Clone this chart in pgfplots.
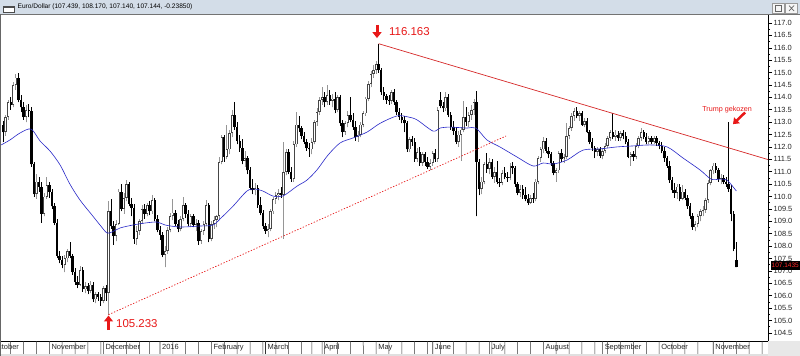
\documentclass[border=0pt]{standalone}
\usepackage{fontspec}
\setmainfont{Liberation Sans}
\usepackage{pgfplots}
\pgfplotsset{compat=1.18}
\usepackage{pgfplotstable}
\usetikzlibrary{arrows.meta}
\definecolor{titlebg}{RGB}{211,221,232}
\definecolor{annred}{RGB}{232,24,24}
\definecolor{trendred}{RGB}{214,40,40}
\definecolor{mablue}{RGB}{40,40,200}
\definecolor{upgray}{RGB}{70,70,70}
\definecolor{wickgray}{RGB}{150,150,150}
\tikzset{monthlbl/.style={anchor=north west, inner sep=0pt, xshift=2bp, yshift=-3bp, font=\fontsize{7.5}{9}\selectfont, text=black!85}}
\pgfplotsset{candle/.style={forget plot, only marks, mark=*, mark size=0pt, mark options={draw=none, fill=none}}}

\pgfplotstableread{
i o h l c
0 112.90 113.05 112.20 112.60
1 112.60 113.30 112.45 113.20
2 113.20 113.90 113.10 113.80
3 113.80 114.00 113.50 113.70
4 113.70 114.60 113.60 114.50
5 114.50 114.95 114.30 114.80
6 114.80 115.00 113.80 113.90
7 113.90 114.10 113.40 113.60
8 113.60 113.80 113.10 113.20
9 113.20 113.70 113.00 113.50
10 113.50 113.75 113.20 113.45
11 113.45 113.60 111.20 111.30
12 111.30 111.40 110.00 110.10
13 110.10 110.90 109.90 110.60
14 110.60 110.80 110.20 110.40
15 110.40 110.60 108.95 109.30
16 109.30 110.15 109.20 110.00
17 110.00 110.80 109.90 110.45
18 110.45 110.60 109.95 110.20
19 110.20 110.30 109.50 109.60
20 109.60 109.75 108.85 108.95
21 108.95 109.10 107.50 107.60
22 107.60 107.80 107.30 107.45
23 107.45 107.60 107.10 107.25
24 107.25 107.65 106.95 107.50
25 107.50 107.90 107.35 107.80
26 107.80 108.15 107.50 107.60
27 107.60 107.70 106.85 106.95
28 106.95 107.10 106.45 106.55
29 106.55 106.80 106.30 106.45
30 106.45 107.20 106.40 107.05
31 107.05 107.15 106.15 106.25
32 106.25 106.55 106.10 106.40
33 106.40 106.50 106.05 106.20
34 106.20 106.60 106.10 106.45
35 106.45 106.55 105.75 105.85
36 105.85 106.15 105.70 106.05
37 106.05 106.15 105.80 105.95
38 105.95 106.05 105.60 105.80
39 105.80 106.40 105.70 106.30
40 106.30 106.45 105.80 106.10
41 106.10 109.80 105.233 109.40
42 109.40 109.90 108.70 108.80
43 108.80 109.00 108.05 108.40
44 108.40 109.05 108.20 108.90
45 108.90 110.30 108.85 110.20
46 110.20 110.50 109.40 109.50
47 109.50 110.15 109.30 109.95
48 109.95 110.65 109.80 110.50
49 110.50 110.60 109.60 109.70
50 109.70 109.95 109.20 109.55
51 109.55 109.70 108.10 108.30
52 108.30 108.80 108.05 108.60
53 108.60 109.10 108.45 109.00
54 109.00 109.65 108.90 109.50
55 109.50 109.70 109.10 109.30
56 109.30 109.75 109.20 109.65
57 109.65 109.80 109.25 109.40
58 109.40 110.05 109.30 109.85
59 109.85 109.95 109.00 109.10
60 109.10 109.25 108.55 108.65
61 108.65 108.80 108.25 108.45
62 108.45 108.55 107.55 107.65
63 107.65 108.00 107.15 107.80
64 107.80 108.75 107.70 108.65
65 108.65 109.35 108.55 109.20
66 109.20 109.90 109.05 109.35
67 109.35 109.45 108.80 108.90
68 108.90 109.05 108.55 108.70
69 108.70 109.20 108.60 109.10
70 109.10 110.00 109.00 109.65
71 109.65 109.75 109.15 109.30
72 109.30 109.45 108.80 108.90
73 108.90 109.30 108.75 109.20
74 109.20 109.30 108.75 108.85
75 108.85 109.10 108.60 108.95
76 108.95 109.05 108.05 108.20
77 108.20 108.70 108.10 108.60
78 108.60 109.00 108.45 108.90
79 108.90 109.85 108.80 109.65
80 109.65 109.75 108.15 108.30
81 108.30 109.00 108.20 108.90
82 108.90 109.20 108.70 109.05
83 109.05 109.25 108.75 109.20
84 109.20 111.60 109.10 111.40
85 111.40 112.50 111.30 112.40
86 112.40 112.50 111.40 111.60
87 111.60 112.90 111.50 111.90
88 111.90 112.70 111.70 112.55
89 112.55 113.50 112.40 113.30
90 113.30 113.80 112.70 112.80
91 112.80 113.00 112.10 112.25
92 112.25 112.50 111.80 111.95
93 111.95 112.30 111.30 111.45
94 111.45 111.85 111.20 111.55
95 111.55 111.65 110.90 111.05
96 111.05 111.20 110.25 110.35
97 110.35 110.70 110.10 110.25
98 110.25 110.55 110.05 110.35
99 110.35 110.45 109.55 109.65
100 109.65 110.00 109.25 109.35
101 109.35 109.45 108.70 108.80
102 108.80 108.95 108.50 108.60
103 108.60 108.90 108.35 108.70
104 108.70 109.50 108.60 109.40
105 109.40 110.00 109.30 109.90
106 109.90 110.20 109.70 110.05
107 110.05 110.30 109.85 110.15
108 110.15 110.40 109.95 110.05
109 110.05 112.20 108.30 111.00
110 111.00 111.90 110.85 111.80
111 111.80 111.90 110.90 111.00
112 111.00 111.20 110.60 110.70
113 110.70 112.25 110.60 112.10
114 112.10 113.40 112.00 112.90
115 112.90 113.25 112.60 112.75
116 112.75 112.85 112.30 112.45
117 112.45 112.60 112.10 112.20
118 112.20 112.30 111.85 111.95
119 111.95 112.15 111.60 111.90
120 111.90 112.35 111.70 112.20
121 112.20 113.10 112.10 113.00
122 113.00 113.55 112.85 113.40
123 113.40 114.00 113.30 113.90
124 113.90 114.40 113.70 114.00
125 114.00 114.20 113.60 113.80
126 113.80 114.50 113.70 114.10
127 114.10 114.30 113.70 113.85
128 113.85 114.15 113.60 113.95
129 113.95 114.20 113.35 113.50
130 113.50 114.10 113.40 114.00
131 114.00 114.10 112.85 112.95
132 112.95 113.10 112.40 112.60
133 112.60 113.05 112.50 112.95
134 112.95 113.45 112.80 113.30
135 113.30 114.00 113.00 113.10
136 113.10 113.35 112.70 112.80
137 112.80 113.05 112.25 112.40
138 112.40 112.65 112.20 112.50
139 112.50 113.00 112.40 112.90
140 112.90 113.45 112.80 113.35
141 113.35 114.00 113.25 113.95
142 113.95 114.65 113.85 114.55
143 114.55 115.05 114.40 114.95
144 114.95 115.30 114.80 115.10
145 115.10 115.45 114.95 115.35
146 115.35 116.163 115.00 115.10
147 115.10 115.20 114.10 114.20
148 114.20 114.40 113.90 114.05
149 114.05 114.15 113.75 113.90
150 113.90 114.10 113.70 113.85
151 113.85 114.30 113.75 114.20
152 114.20 114.35 113.70 113.80
153 113.80 113.90 113.30 113.40
154 113.40 113.55 113.10 113.20
155 113.20 113.35 112.95 113.10
156 113.10 113.25 112.60 112.95
157 112.95 113.05 111.80 111.90
158 111.90 112.40 111.80 112.30
159 112.30 112.45 112.05 112.20
160 112.20 112.35 111.40 111.50
161 111.50 111.95 111.40 111.80
162 111.80 112.00 111.25 111.35
163 111.35 111.80 111.25 111.70
164 111.70 111.80 111.25 111.40
165 111.40 111.60 111.10 111.20
166 111.20 111.50 111.05 111.35
167 111.35 111.85 111.25 111.75
168 111.75 111.90 111.40 111.50
169 111.50 113.60 111.40 113.50
170 113.90 114.20 113.55 113.65
171 113.65 113.80 113.40 113.55
172 113.55 114.20 113.45 114.00
173 114.00 114.15 113.20 113.30
174 113.30 113.40 112.70 112.80
175 112.80 113.05 112.50 112.65
176 112.65 112.80 112.10 112.20
177 112.20 112.65 112.00 112.50
178 112.50 112.80 111.45 112.70
179 112.70 113.85 112.60 113.20
180 113.20 113.60 112.85 113.00
181 113.00 113.40 112.80 113.30
182 113.30 113.70 113.10 113.50
183 113.50 113.95 113.30 113.80
184 113.80 114.27 109.20 111.40
185 111.40 111.50 110.05 110.30
186 110.30 110.80 110.10 110.60
187 110.60 111.40 110.50 111.30
188 111.30 111.75 110.95 111.10
189 111.10 111.55 110.90 111.40
190 111.40 111.50 110.70 110.80
191 110.80 111.20 110.55 111.00
192 111.00 111.45 110.50 110.60
193 110.60 110.75 110.40 110.55
194 110.55 111.05 110.45 110.95
195 110.95 111.20 110.70 110.80
196 110.80 111.00 110.60 110.75
197 110.75 111.35 110.65 111.25
198 111.25 111.40 110.90 111.15
199 111.15 111.25 110.40 110.50
200 110.50 110.60 110.05 110.15
201 110.15 110.45 110.00 110.30
202 110.30 110.45 109.90 110.05
203 110.05 110.40 109.80 109.90
204 109.90 110.10 109.65 109.75
205 109.75 110.05 109.70 109.95
206 109.95 110.15 109.75 109.90
207 109.90 110.70 109.80 110.60
208 110.60 111.65 110.50 111.55
209 111.55 112.00 111.40 111.90
210 111.90 112.40 111.75 112.25
211 112.25 112.35 111.75 111.85
212 111.85 112.00 111.55 111.70
213 111.70 111.80 111.25 111.35
214 111.35 111.45 110.85 110.95
215 110.95 111.15 110.60 111.05
216 111.05 111.85 110.95 111.75
217 111.75 111.90 111.40 111.50
218 111.50 111.70 111.35 111.60
219 111.60 112.95 111.50 112.45
220 112.45 112.85 112.30 112.75
221 112.75 113.35 112.65 113.25
222 113.25 113.55 113.05 113.45
223 113.45 113.60 113.15 113.25
224 113.25 113.45 113.05 113.35
225 113.35 113.45 112.85 112.90
226 112.90 113.15 112.80 113.05
227 113.05 113.15 112.55 112.60
228 112.60 112.70 112.10 112.20
229 112.20 112.35 111.85 111.95
230 111.95 112.05 111.55 111.80
231 111.80 112.00 111.65 111.90
232 111.90 112.00 111.55 111.65
233 111.65 111.95 111.50 111.85
234 111.85 112.15 111.75 112.05
235 112.05 112.45 111.95 112.35
236 112.35 112.70 112.25 112.60
237 112.60 113.37 112.30 112.40
238 112.40 112.70 112.25 112.50
239 112.50 112.65 112.25 112.35
240 112.35 112.65 112.25 112.55
241 112.55 112.70 112.30 112.45
242 112.45 112.60 112.10 112.20
243 112.20 112.30 111.55 111.60
244 111.60 111.80 111.25 111.70
245 111.70 111.85 111.45 111.60
246 111.60 112.15 111.50 112.05
247 112.05 112.45 111.95 112.35
248 112.35 112.75 112.25 112.60
249 112.60 112.70 112.30 112.40
250 112.40 112.55 112.10 112.20
251 112.20 112.45 112.10 112.35
252 112.35 112.45 112.10 112.20
253 112.20 112.45 112.10 112.35
254 112.35 112.45 112.05 112.15
255 112.15 112.25 111.90 112.05
256 112.05 112.20 111.75 111.85
257 111.85 112.00 111.40 111.55
258 111.55 111.65 111.15 111.25
259 111.25 111.45 110.55 110.65
260 110.65 110.80 110.15 110.25
261 110.25 110.55 109.95 110.15
262 110.15 110.50 109.90 110.40
263 110.40 110.50 109.80 109.90
264 109.90 110.45 109.85 110.20
265 110.20 110.30 109.85 109.95
266 109.95 110.05 109.50 109.60
267 109.60 109.75 109.10 109.20
268 109.20 109.35 108.65 108.75
269 108.75 109.00 108.60 108.90
270 108.90 109.30 108.75 109.20
271 109.20 109.50 109.00 109.40
272 109.40 109.60 109.20 109.45
273 109.45 109.95 109.35 109.85
274 109.85 110.65 109.75 110.55
275 110.55 111.10 110.45 111.05
276 111.05 111.35 110.90 111.25
277 111.25 111.35 110.95 111.05
278 111.05 111.15 110.60 110.70
279 110.70 110.90 110.50 110.75
280 110.75 110.85 110.50 110.60
281 110.60 110.80 110.40 110.50
282 110.50 113.00 110.20 110.30
283 110.30 110.45 109.00 109.30
284 109.30 109.40 107.80 107.90
285 107.439 108.170 107.140 107.144
}\candles

\pgfplotstableread{
i ma
-0.7 112.08
2.7 112.28
6.6 112.56
10.9 112.72
14.4 112.24
18.3 111.83
22.2 111.27
26.0 110.50
29.9 109.86
34.6 109.25
37.7 108.85
40.4 108.53
42.4 108.57
45.5 108.73
50.5 108.85
55.2 108.93
59.9 108.97
63.0 108.85
68.8 108.77
76.6 108.81
81.6 108.85
85.1 109.17
89.4 109.61
94.8 110.22
97.9 110.30
101.0 110.22
104.9 110.02
108.8 110.02
114.3 110.42
118.1 110.66
122.0 111.07
126.3 111.67
131.0 112.16
136.0 112.36
141.5 112.60
146.5 112.95
153.1 113.25
157.4 113.21
160.9 113.09
167.1 112.64
169.8 112.76
173.7 112.80
180.3 112.76
183.8 112.76
188.1 112.28
193.1 112.00
199.8 111.59
206.0 111.23
209.9 111.35
213.8 111.31
219.2 111.47
225.4 111.87
232.0 111.92
238.6 112.00
244.9 112.04
251.5 112.08
258.1 112.00
264.3 111.55
270.9 111.07
275.2 110.70
278.7 110.70
281.4 110.66
285.0 110.22
}\matable

\begin{document}
\begin{tikzpicture}
\useasboundingbox (0,0) rectangle (800bp,356bp);
\fill[white] (0,0) rectangle (800bp,356bp);
\begin{axis}[
  at={(1bp,15bp)}, anchor=south west,
  scale only axis, width=767bp, height=326bp,
  xmin=-0.777, xmax=297.3, ymin=104.17, ymax=117.32,
  axis x line*=bottom, axis y line*=right,
  axis line style={black, line width=0.6bp},
  xtick=\empty,
  ytick={104.5,105,105.5,106,106.5,107,107.5,108,108.5,109,109.5,110,110.5,111,111.5,112,112.5,113,113.5,114,114.5,115,115.5,116,116.5,117},
  minor y tick num=1,
  tick align=outside,
  major tick length=4bp, minor tick length=2bp,
  tick style={black, line width=0.5bp},
  yticklabel style={font=\fontsize{7.5}{9}\selectfont, text=black!85, inner sep=1.5bp},
  /pgf/number format/fixed,
  /pgf/number format/fixed zerofill,
  /pgf/number format/precision=1,
  /pgf/number format/assume math mode=true,
  clip=false,
]
% wicks of rising candles (grey)
\addplot[candle,
  error bars/.cd, y dir=plus, y explicit, error mark=none,
  error bar style={line width=0.75bp, color=wickgray, solid}]
  table[x=i, y=l, y error plus expr={(\thisrow{c}>=\thisrow{o})*(\thisrow{h}-\thisrow{l})}] {\candles};
% wicks of falling candles (black)
\addplot[candle,
  error bars/.cd, y dir=plus, y explicit, error mark=none,
  error bar style={line width=0.75bp, color=black, solid}]
  table[x=i, y=l, y error plus expr={(\thisrow{c}<\thisrow{o})*(\thisrow{h}-\thisrow{l})}] {\candles};
% body outline for all candles
\addplot[candle,
  error bars/.cd, y dir=plus, y explicit, error mark=none,
  error bar style={line width=2.4bp, color=upgray, solid}]
  table[x=i, y expr={min(\thisrow{o},\thisrow{c})}, y error plus expr={max(abs(\thisrow{c}-\thisrow{o}),0.04)}] {\candles};
% black bodies
\addplot[candle,
  error bars/.cd, y dir=plus, y explicit, error mark=none,
  error bar style={line width=2.4bp, color=black, solid}]
  table[x=i, y=c, y error plus expr={(\thisrow{c}<\thisrow{o})*max(\thisrow{o}-\thisrow{c},0.04)}] {\candles};
% hollow interior of rising candles
\addplot[candle,
  error bars/.cd, y dir=plus, y explicit, error mark=none,
  error bar style={line width=1bp, color=white, solid}]
  table[x=i, y expr={\thisrow{o}+0.035}, y error plus expr={(\thisrow{c}>\thisrow{o})*max(\thisrow{c}-\thisrow{o}-0.07,0)}] {\candles};
% moving average
\addplot[mablue, line width=0.6bp, smooth, tension=0.5, forget plot, mark=none] table[x=i, y=ma] {\matable};

% trend lines
\draw[trendred, line width=0.7bp] (axis cs:146,116.163) -- (axis cs:297.3,111.49);
\draw[annred, line width=0.7bp, dash pattern=on 1.3bp off 1.7bp] (axis cs:41,105.233) -- (axis cs:195.5,112.44);
% annotations
\draw[annred, line width=3bp, -{Triangle[width=9bp,length=6bp]}] (axis cs:145.35,116.92) -- (axis cs:145.35,116.39);
\node[annred, anchor=west, inner sep=0pt, font=\fontsize{11.5}{13}\selectfont] at (axis cs:150,116.66) {116.163};
\draw[annred, line width=3bp, -{Triangle[width=9bp,length=6bp]}] (axis cs:41,104.61) -- (axis cs:41,105.20);
\node[annred, anchor=west, inner sep=0pt, font=\fontsize{11.5}{13}\selectfont] at (axis cs:43.9,104.89) {105.233};
\node[annred, anchor=west, inner sep=0pt, font=\fontsize{7.2}{8}\selectfont] at (axis cs:271.7,113.5) {Trump gekozen};
\draw[annred, line width=2.5bp, -{Triangle[width=8bp,length=5.5bp]}] (axis cs:288.4,113.39) -- (axis cs:283.7,112.92);

% month separators and weekly ticks
\pgfplotsinvokeforeach{18,39,61,81,102,124,145,167,189,210,233,255,276}{
  \draw[black!80, line width=0.6bp] (axis cs:#1,104.17) -- ++(0,-13bp);
}
\pgfplotsinvokeforeach{3,8,13,23,28,33,38,43,48,53,57,66,71,76,86,91,96,101,106,111,116,120,125,130,135,140,150,155,160,165,170,175,180,185,190,195,200,205,215,220,225,230,235,240,245,250,260,265,270,280,285,290,295}{
  \draw[black!80, line width=0.5bp] (axis cs:#1,104.17) -- ++(0,-3bp);
}
\node[monthlbl] at (axis cs:-5,104.17) {October};
\node[monthlbl] at (axis cs:18,104.17) {November};
\node[monthlbl] at (axis cs:39,104.17) {December};
\node[monthlbl] at (axis cs:61,104.17) {2016};
\node[monthlbl] at (axis cs:81,104.17) {February};
\node[monthlbl] at (axis cs:102,104.17) {March};
\node[monthlbl] at (axis cs:124,104.17) {April};
\node[monthlbl] at (axis cs:145,104.17) {May};
\node[monthlbl] at (axis cs:167,104.17) {June};
\node[monthlbl] at (axis cs:189,104.17) {July};
\node[monthlbl] at (axis cs:210,104.17) {August};
\node[monthlbl] at (axis cs:233,104.17) {September};
\node[monthlbl] at (axis cs:255,104.17) {October};
\node[monthlbl] at (axis cs:276,104.17) {November};
\end{axis}

% window chrome: title bar
\fill[titlebg] (0,342bp) rectangle (800bp,356bp);
\draw[black!55, line width=0.8bp] (0,341.6bp) -- (800bp,341.6bp);
\draw[black!60, line width=0.8bp] (0.4bp,0) -- (0.4bp,342bp);
\filldraw[fill=white, draw=black!70, line width=0.6bp] (3bp,343.5bp) rectangle (14.5bp,349.5bp);
\draw[black!70, line width=1.2bp] (3bp,349bp) -- (14.5bp,349bp);
\node[anchor=west, inner sep=0pt, font=\fontsize{6.6}{8}\selectfont] at (17.5bp,349.3bp) {Euro/Dollar (107.439, 108.170, 107.140, 107.144, -0.23850)};
\filldraw[fill=black!4, draw=black!40, line width=0.5bp] (772.5bp,342.7bp) rectangle (784.5bp,352.7bp);
\filldraw[fill=black!4, draw=black!40, line width=0.5bp] (785.5bp,342.7bp) rectangle (797.5bp,352.7bp);
\draw[black!60, line width=0.6bp] (775.5bp,345bp) rectangle (781.5bp,350.5bp);
\draw[black!60, line width=0.7bp] (789bp,345bp) -- (794bp,350.5bp) (789bp,350.5bp) -- (794bp,345bp);
% bottom chrome
\fill[black!9] (768.3bp,0) rectangle (800bp,15bp);
\fill[black!12] (1bp,0) rectangle (768bp,2bp);
% last price box
\fill[black] (771bp,86bp) rectangle (800bp,95bp);
\node[anchor=west, inner sep=0pt, text={rgb,255:red,255;green,40;blue,40}, font=\fontsize{6.5}{7}\selectfont] at (771.5bp,90.5bp) {107.1435};
\end{tikzpicture}
\end{document}
